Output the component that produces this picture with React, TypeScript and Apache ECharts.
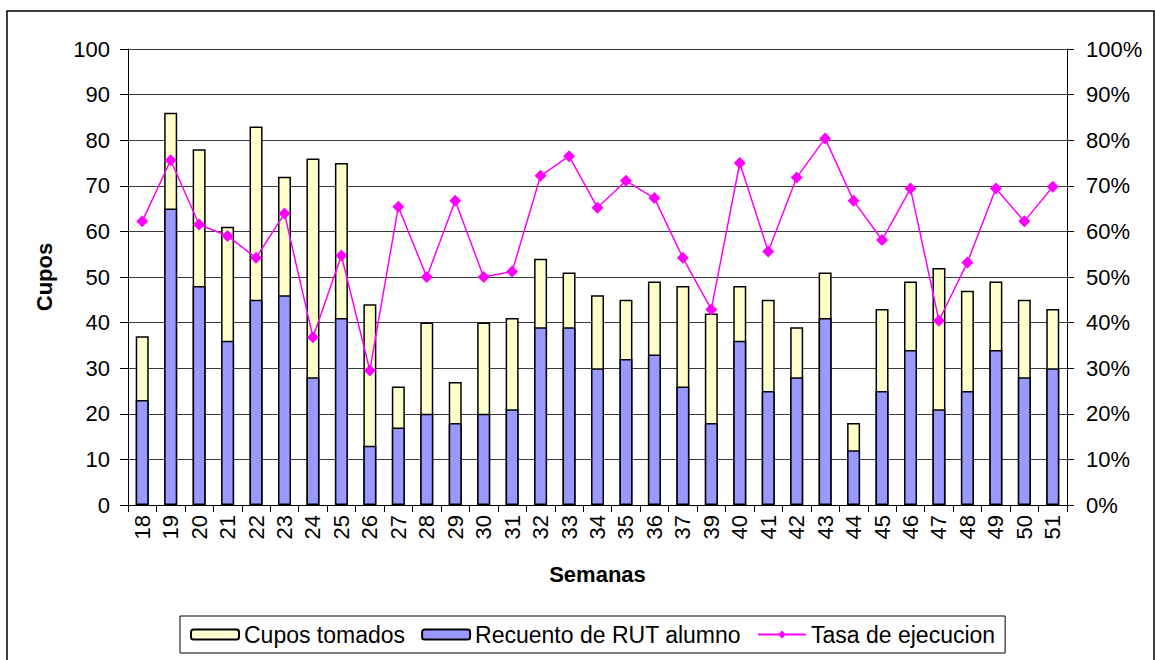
import React, { useEffect, useRef } from "react";
import * as echarts from "echarts";

const weeks = ["18","19","20","21","22","23","24","25","26","27","28","29","30","31","32","33","34","35","36","37","39","40","41","42","43","44","45","46","47","48","49","50","51"];
const cuposTomados = [37,86,78,61,83,72,76,75,44,26,40,27,40,41,54,51,46,45,49,48,42,48,45,39,51,18,43,49,52,47,49,45,43];
const recuentoRut = [23,65,48,36,45,46,28,41,13,17,20,18,20,21,39,39,30,32,33,26,18,36,25,28,41,12,25,34,21,25,34,28,30];
const tasaEjecucion = [62.2,75.6,61.5,59.0,54.2,63.9,36.8,54.7,29.5,65.4,50.0,66.7,50.0,51.2,72.2,76.5,65.2,71.1,67.3,54.2,42.9,75.0,55.6,71.8,80.4,66.7,58.1,69.4,40.4,53.2,69.4,62.2,69.8];

const FONT = "'Liberation Sans', Arial, sans-serif";

export default function App() {
  const ref = useRef<HTMLDivElement>(null);
  useEffect(() => {
    if (!ref.current) return;
    const chart = echarts.init(ref.current, undefined, { renderer: "svg" });
    chart.setOption({
      animation: false,
      backgroundColor: "#ffffff",
      textStyle: { fontFamily: FONT },
      grid: { left: 128, right: 88, top: 49, bottom: 155, containLabel: false },
      graphic: [
        {
          type: "rect",
          shape: { x: 7, y: 11, width: 1147, height: 660 },
          style: { fill: "none", stroke: "#000", lineWidth: 1.5 },
          silent: true,
        },
      ],
      legend: {
        left: 180,
        top: 616,
        itemWidth: 48,
        itemHeight: 10,
        itemGap: 16,
        padding: [7, 10, 7, 10],
        borderColor: "#000",
        borderWidth: 1,
        textStyle: { fontSize: 23, color: "#000", fontFamily: FONT },
        data: ["Cupos tomados", "Recuento de RUT alumno", "Tasa de ejecucion"],
      },
      xAxis: {
        type: "category",
        data: weeks,
        name: "Semanas",
        nameLocation: "middle",
        nameGap: 58,
        nameTextStyle: { fontSize: 22, fontWeight: "bold", color: "#000", fontFamily: FONT },
        axisLine: { lineStyle: { color: "#000", width: 1 } },
        axisTick: { show: true, alignWithLabel: false, length: 7, lineStyle: { color: "#000" } },
        axisLabel: { rotate: 90, fontSize: 22, color: "#000", margin: 10, interval: 0, fontFamily: FONT },
      },
      yAxis: [
        {
          type: "value",
          min: 0,
          max: 100,
          interval: 10,
          name: "Cupos",
          nameLocation: "middle",
          nameGap: 73,
          nameTextStyle: { fontSize: 22, fontWeight: "bold", color: "#000", fontFamily: FONT },
          axisLine: { show: true, lineStyle: { color: "#000", width: 1 } },
          axisTick: { show: true, length: 8, lineStyle: { color: "#000" } },
          axisLabel: { fontSize: 22, color: "#000", margin: 18, fontFamily: FONT },
          splitLine: { show: true, lineStyle: { color: "#3a3a3a", width: 1 } },
        },
        {
          type: "value",
          min: 0,
          max: 100,
          interval: 10,
          position: "right",
          axisLine: { show: true, lineStyle: { color: "#000", width: 1 } },
          axisTick: { show: true, length: 7, lineStyle: { color: "#000" } },
          axisLabel: { fontSize: 22, color: "#000", margin: 19, formatter: "{value}%", fontFamily: FONT },
          splitLine: { show: false },
        },
      ],
      series: [
        {
          name: "Cupos tomados",
          type: "bar",
          data: cuposTomados,
          barWidth: 13,
          barGap: "-100%",
          itemStyle: { color: "#FFFFCC", borderColor: "#000", borderWidth: 1.5 },
        },
        {
          name: "Recuento de RUT alumno",
          type: "bar",
          data: recuentoRut,
          barWidth: 13,
          barGap: "-100%",
          itemStyle: { color: "#9999FF", borderColor: "#000", borderWidth: 1.5 },
        },
        {
          name: "Tasa de ejecucion",
          type: "line",
          yAxisIndex: 1,
          data: tasaEjecucion,
          symbol: "diamond",
          symbolSize: 12,
          lineStyle: { color: "#FF00FF", width: 1.5 },
          itemStyle: { color: "#FF00FF" },
          z: 5,
        },
      ],
    });
    return () => chart.dispose();
  }, []);
  return (
    <div
      ref={ref}
      style={{ position: "fixed", left: 0, top: 0, width: 1155, height: 660 }}
    />
  );
}
